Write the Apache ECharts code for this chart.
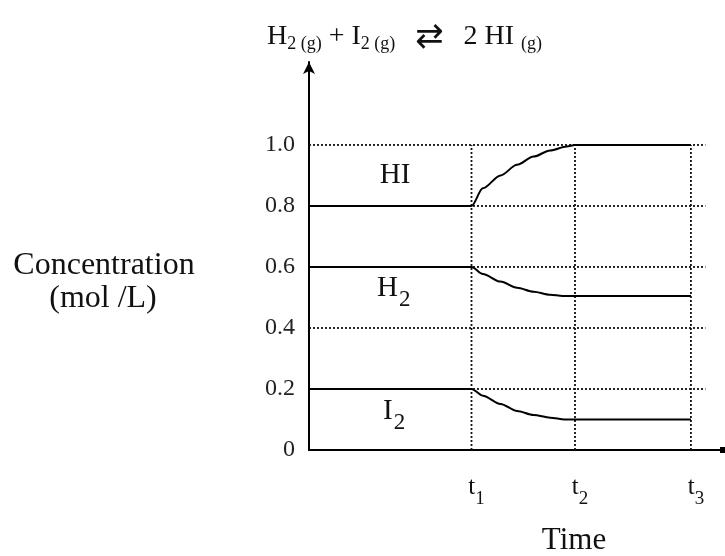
<!DOCTYPE html>
<html>
<head>
<meta charset="utf-8">
<script src="https://cdn.jsdelivr.net/npm/echarts@6/dist/echarts.min.js"></script>
<style>html,body{margin:0;padding:0;background:#fff}#c{width:725px;height:556px}</style>
</head>
<body>
<div id="c"></div>
<script>
// ---- data ----
const yTicks = [0, 0.2, 0.4, 0.6, 0.8, 1.0];
const yTickLabels = ['0', '0.2', '0.4', '0.6', '0.8', '1.0'];
const gridLevels = [0.2, 0.4, 0.6, 0.8, 1.0];
const tTicks = [1.57, 2.57, 3.69];
const tSubs = ['1', '2', '3'];
const gridEnd = 3.83;

const hiTime = [0, 1.57, 1.68, 1.85, 2.01, 2.17, 2.33, 2.49, 2.57, 3.69];
const hiConc = [0.8, 0.8, 0.858, 0.9, 0.935, 0.962, 0.982, 0.995, 1.0, 1.0];
const h2Time = [0, 1.57, 1.68, 1.85, 2.01, 2.17, 2.33, 2.45, 3.69];
const h2Conc = [0.6, 0.6, 0.577, 0.552, 0.532, 0.519, 0.509, 0.505, 0.505];
const i2Time = [0, 1.57, 1.68, 1.85, 2.01, 2.17, 2.33, 2.47, 3.69];
const i2Conc = [0.2, 0.2, 0.178, 0.151, 0.128, 0.115, 0.106, 0.1, 0.1];

const serif = '"Liberation Serif", "Times New Roman", serif';
const ink = '#111';
const pair = (xs, ys) => xs.map((x, i) => [x, ys[i]]);
const dotted = { color: '#111', width: 1.8, type: [2, 2] };

const series = [];
gridLevels.forEach(lv => series.push({
  type: 'line', silent: true, symbol: 'none', z: 1,
  lineStyle: dotted, data: [[0, lv], [gridEnd, lv]]
}));
tTicks.forEach(t => series.push({
  type: 'line', silent: true, symbol: 'none', z: 1,
  lineStyle: dotted, data: [[t, 0], [t, 1.0]]
}));
[[hiTime, hiConc], [h2Time, h2Conc], [i2Time, i2Conc]].forEach(([xs, ys]) => series.push({
  type: 'line', symbol: 'none', z: 3, smooth: 0.3, smoothMonotone: 'x',
  lineStyle: { color: '#000', width: 2 }, data: pair(xs, ys)
}));

const chart = echarts.init(document.getElementById('c'), null, { renderer: 'canvas' });
chart.setOption({
  animation: false,
  backgroundColor: '#fff',
  title: {
    text: '{m|H}{s|2 (g)}{m| + I}{s|2 (g)}{a| ⇄ }{m|2 HI }{s|(g)}',
    left: 262, top: 14,
    textStyle: {
      fontWeight: 'normal',
      rich: {
        m: { fontFamily: serif, fontSize: 28, fontWeight: 'normal', color: ink },
        s: { fontFamily: serif, fontSize: 18, fontWeight: 'normal', color: ink, padding: [15, 0, 0, 0] },
        a: { fontFamily: '"DejaVu Sans"', fontSize: 34, fontWeight: 'normal', color: ink, padding: [2, 9, 0, 9] }
      }
    }
  },
  grid: { left: 309, right: 2, top: 62, bottom: 106, containLabel: false },
  xAxis: {
    type: 'value', min: 0, max: 4,
    splitLine: { show: false }, axisTick: { show: false },
    axisLine: { lineStyle: { color: '#000', width: 2 }, symbol: ['none', 'rect'], symbolSize: [6, 6] },
    axisLabel: {
      customValues: tTicks, margin: 16, padding: [0, 0, 0, 10],
      formatter: v => { const i = tTicks.findIndex(t => Math.abs(t - v) < 1e-6); return i < 0 ? '' : '{t|t}{s|' + tSubs[i] + '}'; },
      rich: {
        t: { fontFamily: serif, fontSize: 25, color: ink },
        s: { fontFamily: serif, fontSize: 19, color: ink, padding: [24, 0, 0, 0] }
      }
    }
  },
  yAxis: {
    type: 'value', min: 0, max: 1.272, interval: 0.2,
    splitLine: { show: false }, axisTick: { show: false },
    axisLine: { lineStyle: { color: '#000', width: 2 }, symbol: ['none', 'arrow'], symbolSize: [9, 12] },
    axisLabel: {
      customValues: yTicks, margin: 14,
      fontFamily: serif, fontSize: 24, color: '#222',
      formatter: v => { const i = yTicks.findIndex(t => Math.abs(t - v) < 1e-6); return i < 0 ? '' : yTickLabels[i]; }
    }
  },
  series: series,
  graphic: [
    { type: 'text', x: 395, y: 175, z: 10, style: { text: 'HI', font: '29px ' + serif, fill: ink, align: 'center', verticalAlign: 'middle' } },
    { type: 'text', x: 377, y: 288, z: 10, style: { text: '{m|H}{s|2}', align: 'left', verticalAlign: 'middle',
      rich: { m: { fontFamily: serif, fontSize: 29, fill: ink }, s: { fontFamily: serif, fontSize: 23, fill: ink, padding: [24, 0, 0, 1] } } } },
    { type: 'text', x: 383, y: 411, z: 10, style: { text: '{m|I}{s|2}', align: 'left', verticalAlign: 'middle',
      rich: { m: { fontFamily: serif, fontSize: 29, fill: ink }, s: { fontFamily: serif, fontSize: 23, fill: ink, padding: [24, 0, 0, 1] } } } },
    { type: 'text', x: 104, y: 266, style: { text: 'Concentration', font: '32px ' + serif, fill: ink, align: 'center', verticalAlign: 'middle' } },
    { type: 'text', x: 103, y: 299, style: { text: '(mol /L)', font: '32px ' + serif, fill: ink, align: 'center', verticalAlign: 'middle' } },
    { type: 'text', x: 574, y: 541, style: { text: 'Time', font: '31px ' + serif, fill: ink, align: 'center', verticalAlign: 'middle' } }
  ]
});
</script>
</body>
</html>
